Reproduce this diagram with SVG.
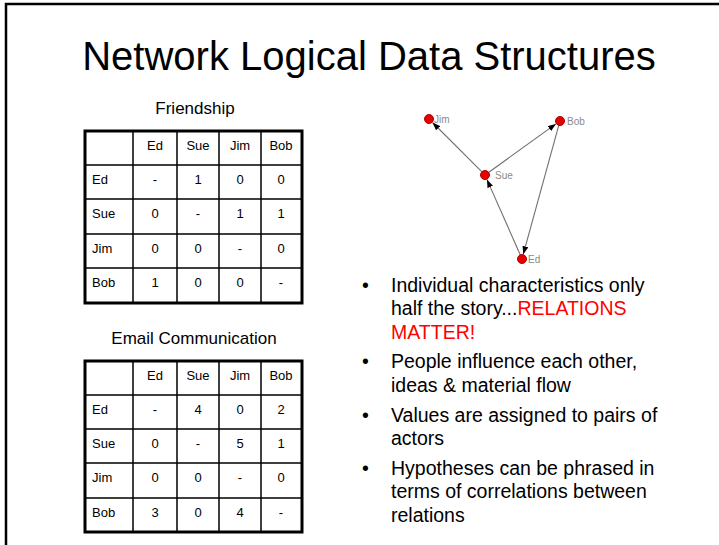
<svg xmlns="http://www.w3.org/2000/svg" width="719" height="545" viewBox="0 0 719 545">
<style>
.t{font-family:"Liberation Sans",Arial,sans-serif;fill:#000}
.cell{font-size:13px;text-anchor:middle}
.rl{font-size:13px}
.cap{font-size:17px;text-anchor:middle}
.bul{font-size:19.5px}
.nl{font-family:"Liberation Sans",Arial,sans-serif;font-size:10px;fill:#8a8a8a}
.outer{fill:#fff;stroke:#000;stroke-width:3}
.inner{stroke:#000;stroke-width:1.5}
.edge{stroke:#707070;stroke-width:1.1;fill:none;marker-end:url(#arr)}
.node{fill:#e80000;stroke:#b00000;stroke-width:1}
</style>
<defs>
<marker id="arr" markerUnits="userSpaceOnUse" markerWidth="8" markerHeight="6" refX="8" refY="3" orient="auto">
<path d="M0,0 L8,3 L0,6 z" fill="#000"/>
</marker>
</defs>
<rect width="719" height="545" fill="#fff"/>
<path d="M6,545 V4 H719" fill="none" stroke="#000" stroke-width="2.5"/>
<text class="t" x="369" y="70" font-size="40" text-anchor="middle">Network Logical Data Structures</text>

<g id="friendship">
<text class="t cap" x="195" y="114">Friendship</text>
<rect class="outer" x="85" y="131" width="217" height="172"/>
<path class="inner" d="M133,131V303 M177,131V303 M219,131V303 M261,131V303 M85,165H302 M85,199H302 M85,234H302 M85,268H302"/>
<g class="t cell">
<text x="155" y="150">Ed</text><text x="198" y="150">Sue</text><text x="240" y="150">Jim</text><text x="281" y="150">Bob</text>
<text x="155" y="184">-</text><text x="198" y="184">1</text><text x="240" y="184">0</text><text x="281" y="184">0</text>
<text x="155" y="218">0</text><text x="198" y="218">-</text><text x="240" y="218">1</text><text x="281" y="218">1</text>
<text x="155" y="253">0</text><text x="198" y="253">0</text><text x="240" y="253">-</text><text x="281" y="253">0</text>
<text x="155" y="287">1</text><text x="198" y="287">0</text><text x="240" y="287">0</text><text x="281" y="287">-</text>
</g>
<g class="t rl">
<text x="92" y="184">Ed</text><text x="92" y="218">Sue</text><text x="92" y="253">Jim</text><text x="92" y="287">Bob</text>
</g>
</g>

<g id="email">
<text class="t cap" x="194" y="344">Email Communication</text>
<rect class="outer" x="85" y="361" width="217" height="171"/>
<path class="inner" d="M133,361V532 M177,361V532 M219,361V532 M261,361V532 M85,395H302 M85,429H302 M85,463H302 M85,498H302"/>
<g class="t cell">
<text x="155" y="380">Ed</text><text x="198" y="380">Sue</text><text x="240" y="380">Jim</text><text x="281" y="380">Bob</text>
<text x="155" y="414">-</text><text x="198" y="414">4</text><text x="240" y="414">0</text><text x="281" y="414">2</text>
<text x="155" y="448">0</text><text x="198" y="448">-</text><text x="240" y="448">5</text><text x="281" y="448">1</text>
<text x="155" y="482">0</text><text x="198" y="482">0</text><text x="240" y="482">-</text><text x="281" y="482">0</text>
<text x="155" y="517">3</text><text x="198" y="517">0</text><text x="240" y="517">4</text><text x="281" y="517">-</text>
</g>
<g class="t rl">
<text x="92" y="414">Ed</text><text x="92" y="448">Sue</text><text x="92" y="482">Jim</text><text x="92" y="517">Bob</text>
</g>
</g>

<g id="connectors">
<line class="edge" x1="482.2" y1="172.2" x2="432.5" y2="122.5"/>
<line class="edge" x1="488.2" y1="172.7" x2="555.9" y2="123.9"/>
<line class="edge" x1="520.4" y1="255.3" x2="487.0" y2="179.6"/>
<line class="edge" x1="558.9" y1="124.9" x2="523.3" y2="254.2"/>
</g>
<g id="node-jim"><circle class="node" cx="429" cy="119" r="4.5"/><text class="nl" x="434" y="122.5">Jim</text></g>
<g id="node-bob"><circle class="node" cx="560" cy="121" r="4.5"/><text class="nl" x="567" y="124.5">Bob</text></g>
<g id="node-sue"><circle class="node" cx="485" cy="175" r="4.5"/><text class="nl" x="495" y="179">Sue</text></g>
<g id="node-ed"><circle class="node" cx="522" cy="259" r="4.5"/><text class="nl" x="528" y="262.5">Ed</text></g>

<g id="bullets" class="t bul">
<text x="362" y="292">•</text><text x="391" y="292">Individual characteristics only</text>
<text x="391" y="315">half the story...<tspan fill="#ff0000">RELATIONS</tspan></text>
<text x="391" y="339" fill="#ff0000">MATTER!</text>
<text x="362" y="368">•</text><text x="391" y="368">People influence each other,</text>
<text x="391" y="392">ideas &amp; material flow</text>
<text x="362" y="422">•</text><text x="391" y="422">Values are assigned to pairs of</text>
<text x="391" y="445">actors</text>
<text x="362" y="475">•</text><text x="391" y="475">Hypotheses can be phrased in</text>
<text x="391" y="498">terms of correlations between</text>
<text x="391" y="522">relations</text>
</g>
</svg>
